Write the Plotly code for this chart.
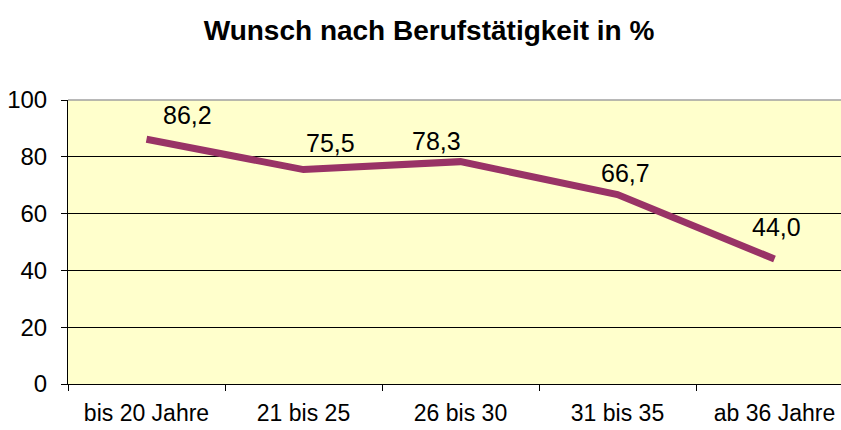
import plotly.graph_objects as go

categories = ["bis 20 Jahre", "21 bis 25", "26 bis 30", "31 bis 35", "ab 36 Jahre"]
values = [86.2, 75.5, 78.3, 66.7, 44.0]
labels = ["86,2", "75,5", "78,3", "66,7", "44,0"]
yticks = [0, 20, 40, 60, 80, 100]

# label placement offsets (pixels), styling only
label_dx = [41, 27, -24, 8, 2]
label_dy = [24, 27, 21, 22, 32]

font = "Liberation Sans, Arial, sans-serif"

fig = go.Figure()
fig.add_trace(go.Scatter(
    x=categories, y=values, mode="lines",
    line=dict(color="#993366", width=7),
    hoverinfo="skip", showlegend=False,
))

for c, v, t, dx, dy in zip(categories, values, labels, label_dx, label_dy):
    fig.add_annotation(x=c, y=v, text=t, showarrow=False,
                       xshift=dx, yshift=dy,
                       font=dict(family=font, size=25, color="#000000"))

fig.add_shape(type="line", xref="paper", yref="paper", x0=0, x1=1, y0=1, y1=1,
              line=dict(color="#A0A0A0", width=1.5))

fig.update_layout(
    width=853, height=430,
    margin=dict(l=68, r=0, t=100, b=46),
    paper_bgcolor="#FFFFFF",
    plot_bgcolor="#FFFFCC",
    title=dict(text="<b>Wunsch nach Berufstätigkeit in %</b>",
               x=0.503, xanchor="center", y=0.93, yanchor="middle",
               font=dict(family=font, size=28, color="#000000")),
    xaxis=dict(
        type="category", range=[-0.5, 4.5], tickson="boundaries",
        ticks="outside", ticklen=6, automargin=False,
        tickcolor="#000000", showline=True, linecolor="#000000", linewidth=1,
        showgrid=False, tickfont=dict(family=font, size=23, color="#000000"),
        ticklabelstandoff=8,
    ),
    yaxis=dict(
        range=[0, 100], tickvals=yticks, ticks="outside", ticklen=6,
        automargin=False,
        tickcolor="#000000", showline=True, linecolor="#000000", linewidth=1,
        showgrid=True, gridcolor="#000000", gridwidth=1, zeroline=False,
        tickfont=dict(family=font, size=24, color="#000000"),
        ticklabelstandoff=9,
    ),
)

fig.write_html(
    "out.html",
    config={"displayModeBar": False},
    post_script="document.body.style.margin='0';document.body.style.overflow='hidden';",
)
